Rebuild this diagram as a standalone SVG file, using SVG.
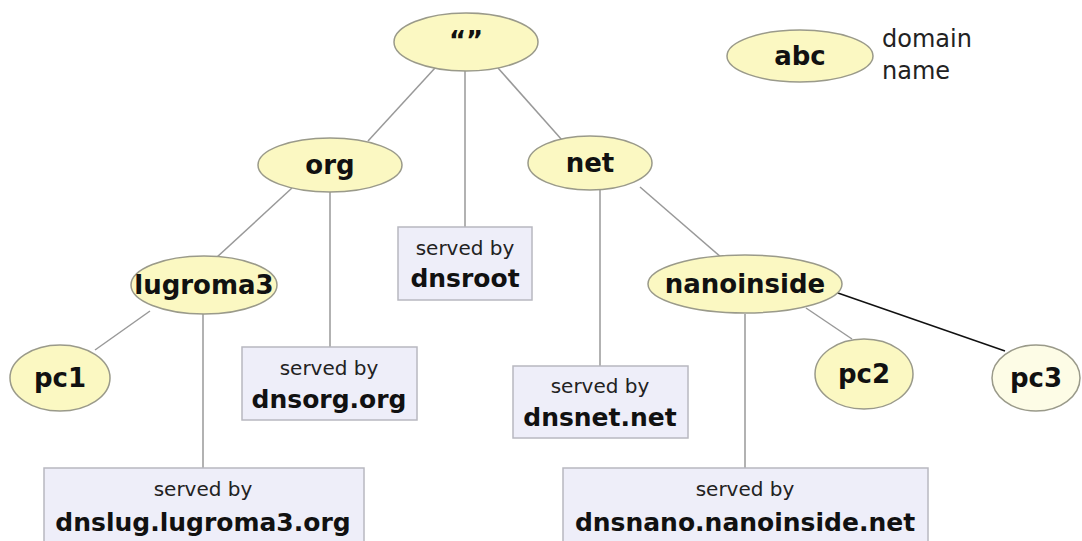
<svg xmlns="http://www.w3.org/2000/svg" width="1082" height="541" viewBox="0 0 1082 541">
<style>
.n{fill:#fbf8c2;stroke:#9a9a8a;stroke-width:1.5}
.n3{fill:#fdfce6;stroke:#9a9a8a;stroke-width:1.5}
.b{fill:#eeeef9;stroke:#b8b8c0;stroke-width:1.5}
.c{stroke:#999;stroke-width:1.5;fill:none}
.k{stroke:#111;stroke-width:1.5;fill:none}
.l{font-family:"DejaVu Sans",Verdana,sans-serif;font-weight:bold;font-size:26px;fill:#111;text-anchor:middle}
.s{font-family:"DejaVu Sans",Verdana,sans-serif;font-size:20px;fill:#222;text-anchor:middle}
.d{font-family:"DejaVu Sans",Verdana,sans-serif;font-weight:bold;font-size:25px;fill:#111;text-anchor:middle}
.t{font-family:"DejaVu Sans",Verdana,sans-serif;font-size:24px;fill:#222}
</style>
<g id="connectors">
<line class="c" x1="435" y1="68" x2="368" y2="141"/>
<line class="c" x1="498" y1="68" x2="562" y2="140"/>
<line class="c" x1="465" y1="71" x2="465" y2="227"/>
<line class="c" x1="292" y1="188" x2="216" y2="258"/>
<line class="c" x1="330" y1="192" x2="330" y2="347"/>
<line class="c" x1="150" y1="311" x2="95" y2="350"/>
<line class="c" x1="203" y1="314" x2="203" y2="468"/>
<line class="c" x1="640" y1="187" x2="722" y2="258"/>
<line class="c" x1="600" y1="190" x2="600" y2="366"/>
<line class="c" x1="745" y1="314" x2="745" y2="468"/>
<line class="c" x1="806" y1="308" x2="852" y2="339"/>
<line class="k" x1="835" y1="292" x2="1005" y2="351"/>
</g>
<g id="root"><ellipse class="n" cx="466" cy="42" rx="72" ry="29"/><text class="l" x="466" y="50">“”</text></g>
<g id="legend"><ellipse class="n" cx="800" cy="56" rx="73" ry="26"/><text class="l" x="800" y="65">abc</text><text class="t" x="882" y="47">domain</text><text class="t" x="882" y="79">name</text></g>
<g id="org"><ellipse class="n" cx="330" cy="165" rx="72" ry="27"/><text class="l" x="330" y="174">org</text></g>
<g id="net"><ellipse class="n" cx="590" cy="163" rx="62" ry="27"/><text class="l" x="590" y="172">net</text></g>
<g id="lugroma3"><ellipse class="n" cx="204" cy="285" rx="73" ry="29"/><text class="l" x="204" y="294">lugroma3</text></g>
<g id="nanoinside"><ellipse class="n" cx="745" cy="284" rx="97" ry="29"/><text class="l" x="745" y="293">nanoinside</text></g>
<g id="pc1"><ellipse class="n" cx="60" cy="378" rx="50" ry="33"/><text class="l" x="60" y="387">pc1</text></g>
<g id="pc2"><ellipse class="n" cx="864" cy="374" rx="49" ry="35"/><text class="l" x="864" y="383">pc2</text></g>
<g id="pc3"><ellipse class="n3" cx="1036" cy="378" rx="44" ry="33"/><text class="l" x="1036" y="387">pc3</text></g>
<g id="dnsroot"><rect class="b" x="398" y="227" width="134" height="73"/><text class="s" x="465" y="255">served by</text><text class="d" x="465" y="287">dnsroot</text></g>
<g id="dnsorg"><rect class="b" x="242" y="347" width="175" height="73"/><text class="s" x="329" y="375">served by</text><text class="d" x="329" y="408">dnsorg.org</text></g>
<g id="dnsnet"><rect class="b" x="513" y="366" width="175" height="72"/><text class="s" x="600" y="393">served by</text><text class="d" x="600" y="426">dnsnet.net</text></g>
<g id="dnslug"><rect class="b" x="44" y="468" width="320" height="80"/><text class="s" x="203" y="496">served by</text><text class="d" x="203" y="531">dnslug.lugroma3.org</text></g>
<g id="dnsnano"><rect class="b" x="563" y="468" width="365" height="80"/><text class="s" x="745" y="496">served by</text><text class="d" x="745" y="531">dnsnano.nanoinside.net</text></g>
</svg>
